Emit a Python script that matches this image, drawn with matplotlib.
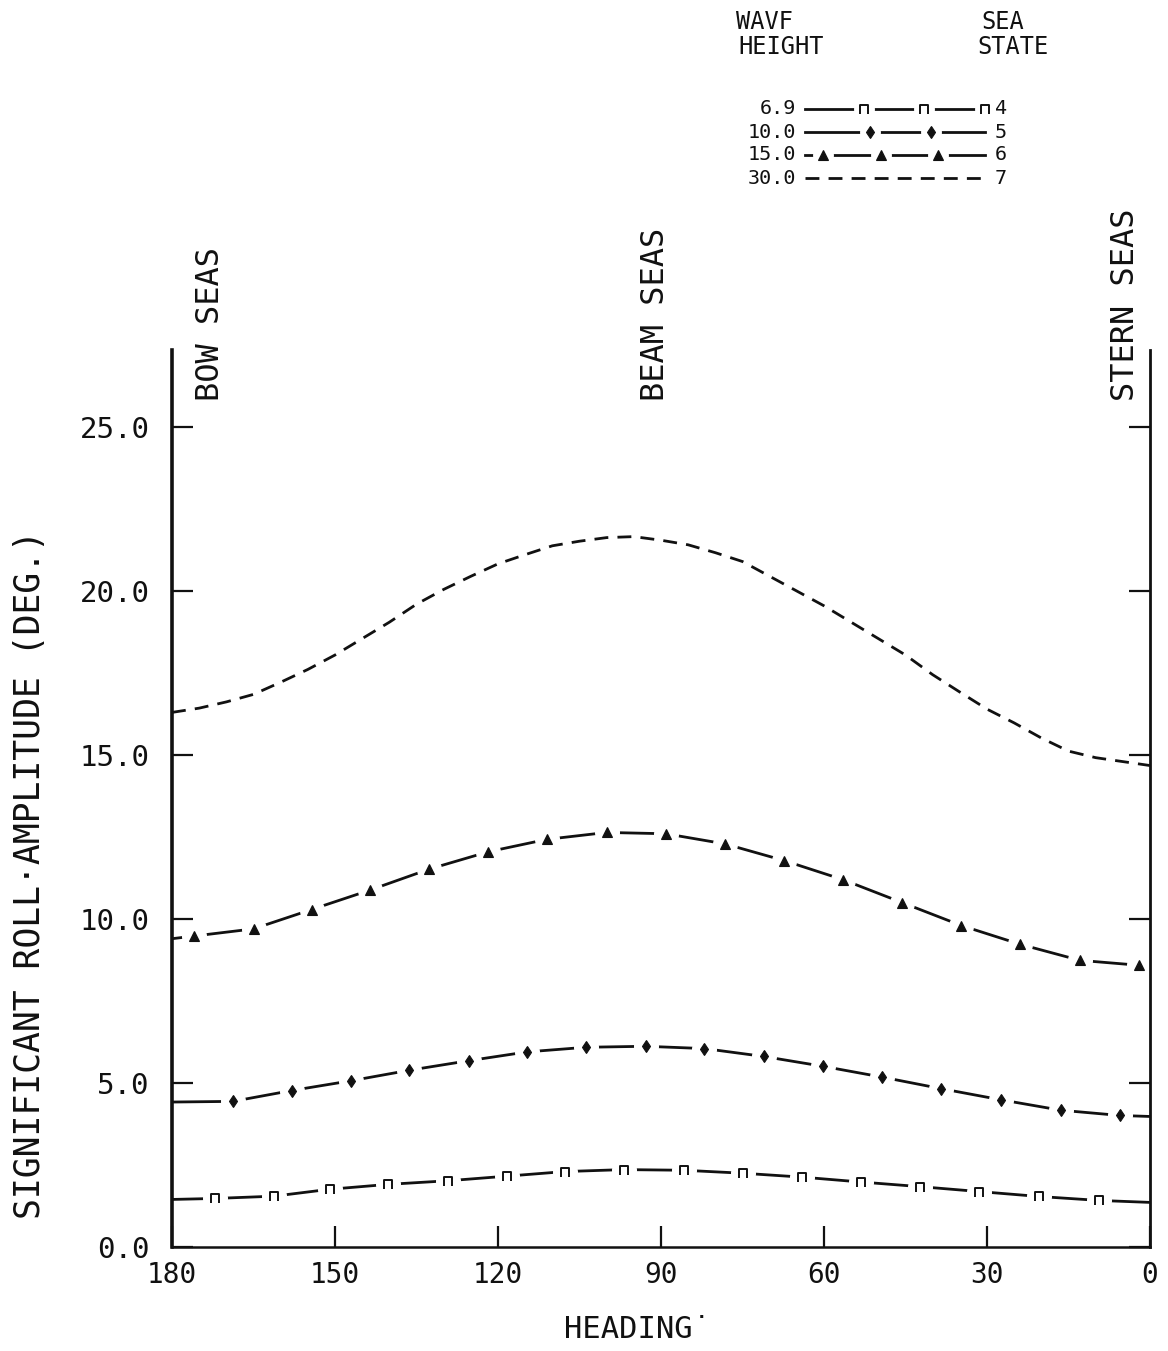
import numpy as np
import matplotlib
matplotlib.use("Agg")
import matplotlib.pyplot as plt
from matplotlib.path import Path
from matplotlib.lines import Line2D

plt.rcParams['font.family'] = ['DejaVu Sans Mono', 'DejaVu Sans']

# ---------------- data ----------------
x_ticks = [180, 150, 120, 90, 60, 30, 0]
x_tick_labels = ["180", "150", "120", "90", "60", "30", "0"]
y_ticks = [0, 5, 10, 15, 20, 25]
y_tick_labels = ["0.0", "5.0", "10.0", "15.0", "20.0", "25.0"]

wave_heights = ["6.9", "10.0", "15.0", "30.0"]
sea_states = ["4", "5", "6", "7"]

# sea state 4 (wave height 6.9)
heading_ss4 = [180, 172.1, 161.2, 151.0, 140.2, 129.2, 118.4, 107.7, 96.9, 85.8,
               75.0, 64.0, 53.1, 42.3, 31.4, 20.4, 9.4, 0]
roll_ss4 = [1.45, 1.48, 1.55, 1.76, 1.91, 2.02, 2.16, 2.30, 2.36, 2.34,
            2.25, 2.13, 1.98, 1.84, 1.69, 1.54, 1.42, 1.36]

# sea state 5 (wave height 10.0)
heading_ss5 = [180, 168.8, 158.0, 147.0, 136.3, 125.4, 114.6, 103.8, 92.8, 82.0,
               71.1, 60.2, 49.3, 38.5, 27.5, 16.4, 5.5, 0]
roll_ss5 = [4.42, 4.44, 4.77, 5.07, 5.39, 5.68, 5.95, 6.09, 6.12, 6.05,
            5.81, 5.51, 5.18, 4.83, 4.49, 4.17, 4.01, 3.98]

# sea state 6 (wave height 15.0)
heading_ss6 = [180, 176.0, 165.0, 154.3, 143.6, 132.7, 121.8, 111.0, 100.0, 89.1,
               78.2, 67.3, 56.5, 45.6, 34.7, 23.9, 12.9, 2.0, 0]
roll_ss6 = [9.40, 9.48, 9.70, 10.29, 10.88, 11.52, 12.05, 12.43, 12.64, 12.60,
            12.29, 11.78, 11.20, 10.50, 9.80, 9.23, 8.74, 8.59, 8.57]

# sea state 7 (wave height 30.0)
heading_ss7 = [180, 175, 170, 165, 160, 155, 150, 145, 140, 135, 130, 125, 120,
               115, 110, 105, 100, 95, 90, 85, 80, 75, 70, 65, 60, 55, 50, 45,
               40, 35, 30, 25, 20, 15, 10, 5, 0]
roll_ss7 = [16.30, 16.43, 16.62, 16.85, 17.22, 17.61, 18.05, 18.55, 19.05, 19.60,
            20.05, 20.45, 20.83, 21.11, 21.38, 21.52, 21.63, 21.66, 21.55, 21.41,
            21.17, 20.90, 20.45, 20.00, 19.55, 19.05, 18.55, 18.05, 17.45, 16.92,
            16.40, 15.98, 15.52, 15.12, 14.92, 14.80, 14.68]

# ---------------- styling ----------------
INK = "#111111"
n_marker = Path([(-0.8, -1.0), (-0.8, 0.9), (0.8, 0.9), (0.8, -1.0)],
                [Path.MOVETO, Path.LINETO, Path.LINETO, Path.LINETO])

styles = {
    "4": dict(marker=n_marker, ms=7, mfc="none", mew=1.4),
    "5": dict(marker="d", ms=6, mfc=INK, mew=0.8),
    "6": dict(marker="^", ms=7, mfc=INK, mew=0.8),
}

fig = plt.figure(figsize=(11.68, 13.51), dpi=100)
ax = fig.add_axes([172/1168, 1 - 1247/1351, (1150-172)/1168, (1247-350)/1351])
ax.set_xlim(180, 0)
ax.set_ylim(0, 27.35)

LW = 2.0


def draw_marked(x, y, st):
    ax.plot(x, y, color=INK, lw=LW, solid_capstyle="butt", zorder=2)
    ax.plot(x, y, ls="none", marker="o", ms=17, mfc="white", mec="white",
            markevery=slice(1, -1), zorder=3)
    ax.plot(x, y, ls="none", color=INK, mec=INK, markevery=slice(1, -1),
            zorder=4, **st)


draw_marked(heading_ss4, roll_ss4, styles["4"])
draw_marked(heading_ss5, roll_ss5, styles["5"])
draw_marked(heading_ss6, roll_ss6, styles["6"])
dash7 = (0, (5.0, 3.3))
ax.plot(heading_ss7, roll_ss7, color=INK, lw=LW, ls=dash7, zorder=2)

# spines / ticks
ax.spines["top"].set_visible(False)
ax.spines["left"].set_linewidth(2.6)
ax.spines["right"].set_linewidth(2.0)
ax.spines["bottom"].set_linewidth(1.8)
for s in ax.spines.values():
    s.set_color(INK)
    s.set_zorder(6)
ax.set_xticks(x_ticks)
ax.set_xticklabels(x_tick_labels)
ax.set_yticks(y_ticks)
ax.set_yticklabels(y_tick_labels)
ax.tick_params(axis="x", direction="in", length=15, width=1.6, pad=10,
               labelsize=20, colors=INK)
ax.tick_params(axis="y", direction="in", length=15, width=1.6, pad=16,
               labelsize=21, colors=INK, right=True)

# vertical headings
for h, lab in ((173.0, "BOW SEAS"), (91.1, "BEAM SEAS"), (4.6, "STERN SEAS")):
    ax.text(h, 25.8, lab, rotation=90, ha="center", va="bottom",
            fontsize=23, color=INK, clip_on=False)

# axis labels
fig.text(30/1168, 1 - 875/1351, "SIGNIFICANT ROLL·AMPLITUDE (DEG.)",
         rotation=90, ha="center", va="center", fontsize=25, color=INK)
fig.text(637/1168, 1 - 1330/1351, "HEADING˙", ha="center", va="center",
         fontsize=22, color=INK)

# ---------------- legend (hand built) ----------------
def fx(px):
    return px / 1168


def fy(py):
    return 1 - py / 1351


HF = 17
fig.text(fx(765), fy(22), "WAVF", ha="center", va="center", fontsize=HF, color=INK)
fig.text(fx(781), fy(47), "HEIGHT", ha="center", va="center", fontsize=HF, color=INK)
fig.text(fx(1003), fy(22), "SEA", ha="center", va="center", fontsize=HF, color=INK)
fig.text(fx(1013), fy(47), "STATE", ha="center", va="center", fontsize=HF, color=INK)

RF = 14.5
row_y = [109, 132, 155, 178]
x0, x1 = fx(805), fx(985)
for i, (wh, ss) in enumerate(zip(wave_heights, sea_states)):
    yy = fy(row_y[i])
    fig.text(fx(796), yy, wh, ha="right", va="center", fontsize=RF, color=INK)
    fig.text(fx(995), yy, ss, ha="left", va="center", fontsize=RF, color=INK)
    if ss == "7":
        fig.add_artist(Line2D([x0, x1], [yy, yy], transform=fig.transFigure,
                              color=INK, lw=LW, ls=dash7))
        continue
    fig.add_artist(Line2D([x0, x1], [yy, yy], transform=fig.transFigure,
                          color=INK, lw=LW))
    if ss == "4":
        mx = [x0 + (x1 - x0) * f for f in (0.33, 0.66, 1.0)]
    elif ss == "5":
        mx = [x0 + (x1 - x0) * f for f in (0.36, 0.70)]
    else:
        mx = [x0 + (x1 - x0) * f for f in (0.10, 0.42, 0.74)]
    fig.add_artist(Line2D(mx, [yy] * len(mx), transform=fig.transFigure,
                          ls="none", marker="o", ms=14, mfc="white", mec="white"))
    fig.add_artist(Line2D(mx, [yy] * len(mx), transform=fig.transFigure,
                          ls="none", color=INK, mec=INK, **styles[ss]))

fig.savefig("out.png", dpi=100, facecolor="white")
